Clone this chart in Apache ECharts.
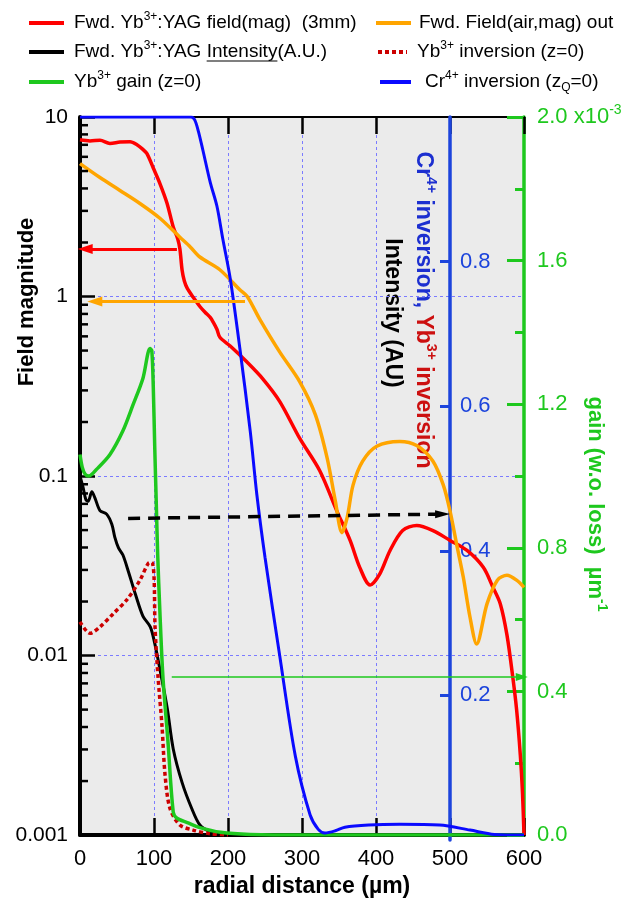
<!DOCTYPE html>
<html>
<head>
<meta charset="utf-8">
<script src="https://cdn.jsdelivr.net/npm/echarts@6/dist/echarts.min.js"></script>
<style>
  html, body { margin: 0; padding: 0; background: #fff; }
  #chart { width: 641px; height: 903px; }
</style>
</head>
<body>
<div id="chart"></div>
<script>
// Radial profiles at the Yb:YAG / Cr:YAG interface (r in µm)

// Forward Yb3+:YAG field magnitude, 3 mm (left log axis)
const fieldYagR = [0, 13.5, 27, 40.5, 54, 67.6, 77, 85, 90.5, 99, 108, 117.6, 126, 132, 135, 138, 141, 145, 153, 162, 169, 176, 180, 185, 189, 203, 226, 247, 270, 297, 324, 347, 365, 378, 392, 405, 419, 436, 455, 477, 500, 523, 545, 558, 568, 577, 585, 590, 595, 598, 600];
const fieldYagVal = [7.46, 7.36, 7.43, 7.12, 7.25, 7.28, 7.0, 6.6, 6.25, 5.2, 4.26, 3.31, 2.44, 2.1, 1.84, 1.4, 1.22, 1.11, 0.99, 0.88, 0.817, 0.765, 0.72, 0.657, 0.593, 0.53, 0.43, 0.348, 0.26, 0.162, 0.107, 0.064, 0.0438, 0.031, 0.0247, 0.0284, 0.0385, 0.0497, 0.053, 0.0497, 0.0438, 0.0385, 0.031, 0.024, 0.0194, 0.013, 0.0075, 0.005, 0.0028, 0.0017, 0.001];

// Forward field in air at the output (left log axis)
const fieldAirR = [0, 27, 54, 81, 108, 135, 149, 162, 189, 216, 226, 243, 270, 297, 318, 334, 345, 354, 361, 369, 382, 401, 432, 455, 477, 491, 500, 509, 518, 527, 536, 550, 564, 577, 590, 600];
const fieldAirVal = [5.5, 4.6, 3.9, 3.3, 2.73, 2.14, 1.89, 1.66, 1.41, 1.09, 1.0, 0.746, 0.49, 0.335, 0.22, 0.126, 0.0728, 0.0484, 0.0586, 0.089, 0.121, 0.1466, 0.156, 0.148, 0.121, 0.089, 0.064, 0.0416, 0.0273, 0.0164, 0.0116, 0.0194, 0.0263, 0.028, 0.0263, 0.024];

// Forward Yb3+:YAG intensity, A.U. (inversion / intensity axis)
const intensityR = [0, 4, 8, 11, 16, 20, 27, 36, 43, 47, 52, 58, 66, 75, 85, 95, 101, 108, 118, 126, 138, 151, 162, 176, 195, 230, 280];
const intensityVal = [0.50, 0.485, 0.467, 0.465, 0.478, 0.47, 0.452, 0.447, 0.433, 0.415, 0.4, 0.39, 0.365, 0.335, 0.305, 0.29, 0.267, 0.231, 0.176, 0.12, 0.073, 0.037, 0.014, 0.005, 0.0015, 0.0003, 0];

// Yb3+ inversion at z = 0
const ybInvR = [0, 13.5, 27, 44.6, 63.5, 81, 92, 97, 100, 101.4, 105.4, 110.8, 115, 121.6, 135, 152.7, 175.7, 200];
const ybInvVal = [0.297, 0.281, 0.29, 0.308, 0.328, 0.355, 0.378, 0.38, 0.36, 0.29, 0.221, 0.152, 0.083, 0.037, 0.014, 0.007, 0.002, 0];

// Yb3+ gain at z = 0, units of 1e-3 µm^-1 (right gain axis)
const gainR = [0, 3, 7, 12, 23, 40.5, 58, 71.6, 85, 94.6, 97, 99, 101, 103, 105, 108, 112, 119, 126, 131, 145, 162, 190, 230, 300, 600];
const gainVal = [1.06, 1.025, 1.005, 1.0, 1.02, 1.06, 1.126, 1.198, 1.272, 1.355, 1.35, 1.25, 1.08, 0.93, 0.78, 0.62, 0.443, 0.257, 0.064, 0.047, 0.035, 0.021, 0.008, 0.002, 0, 0];

// Cr4+ inversion at zQ = 0
const crInvR = [0, 150, 155, 160, 166, 176, 185, 193, 203, 216, 230, 239, 250, 270, 291, 311, 322, 331, 345, 358, 390, 432, 486, 527, 560, 600];
const crInvVal = [1.0, 1.0, 0.996, 0.98, 0.954, 0.909, 0.876, 0.83, 0.775, 0.678, 0.563, 0.474, 0.387, 0.249, 0.11, 0.028, 0.008, 0.003, 0.006, 0.011, 0.014, 0.015, 0.014, 0.007, 0.001, 0];

// Annotation arrows: [r start, r end, value(s)]
const arrowYag = [131, 7, 1.84];
const arrowAir = [223, 20, 0.938];
const arrowIntensity = [65, 490, 0.441, 0.447];
const arrowGain = [124, 597, 0.44];

// Tick labels and tick positions
const xTicks = [0, 100, 200, 300, 400, 500, 600];
const leftTickLabels = ['0.001', '0.01', '0.1', '1', '10'];
const invTicks = [0.2, 0.4, 0.6, 0.8];
// minor ticks of the field axis: 2..9 within each decade
const logMinorTicks = [];
[0.001, 0.01, 0.1, 1].forEach(function (d) {
  for (let k = 2; k <= 9; k++) logMinorTicks.push(+(k * d).toPrecision(3));
});

const FONT = '"Liberation Sans", Arial, Helvetica, sans-serif';
const C_RED = '#ff0000', C_ORANGE = '#ffa500', C_GREEN = '#1ec81e', C_BLUE = '#0a0aff',
      C_AXBLUE = '#1c44dc', C_DRED = '#cc0000';

function zip(xs, ys) { return xs.map(function (x, i) { return [x, ys[i]]; }); }

const measureCtx = document.createElement('canvas').getContext('2d');
function textWidth(s, size, weight) {
  measureCtx.font = (weight || 'normal') + ' ' + size + 'px ' + FONT;
  return measureCtx.measureText(s).width;
}

const chart = echarts.init(document.getElementById('chart'), null, { renderer: 'canvas', width: 641, height: 903 });

function arrowLine(x0, y0, x1, y1, color, width, type, size) {
  return {
    silent: true,
    animation: false,
    symbol: ['none', 'triangle'],
    symbolSize: size,
    label: { show: false },
    emphasis: { disabled: true },
    lineStyle: { color: color, width: width, type: type },
    data: [[{ coord: [x0, y0] }, { coord: [x1, y1] }]]
  };
}

function curve(name, xs, ys, yIdx, color, width, dash, markLine) {
  const s = {
    name: name,
    type: 'line',
    xAxisIndex: 0,
    yAxisIndex: yIdx,
    data: zip(xs, ys),
    showSymbol: false,
    symbol: 'none',
    smooth: 0.3,
    lineStyle: { color: color, width: width, type: dash || 'solid', cap: 'butt' },
    itemStyle: { color: color },
    emphasis: { disabled: true },
    silent: true
  };
  if (markLine) s.markLine = markLine;
  return s;
}

// Legend rows
const LEG = 19, SUP = 12;
const legRich = {
  n: { fontSize: LEG, fontFamily: FONT, fill: '#000', lineHeight: 24 },
  s: { fontSize: SUP, fontFamily: FONT, fill: '#000', verticalAlign: 'top', lineHeight: 24 },
  b: { fontSize: SUP, fontFamily: FONT, fill: '#000', verticalAlign: 'bottom', lineHeight: 24 }
};
function legText(x, y, text) {
  return {
    type: 'text', x: x, y: y, silent: true,
    style: { text: text, rich: legRich, align: 'left', verticalAlign: 'middle', textAlign: 'left', textVerticalAlign: 'middle', fill: '#000', fontSize: LEG, fontFamily: FONT }
  };
}
function legLine(x1, x2, y, color, dash) {
  return {
    type: 'line', silent: true,
    shape: { x1: x1, y1: y, x2: x2, y2: y },
    style: { stroke: color, lineWidth: 4, lineDash: dash || null }
  };
}
const row1 = 23, row2 = 52, row3 = 82;
const preIntensity = textWidth('Fwd. Yb', LEG) + textWidth('3+', SUP) + textWidth(':YAG ', LEG);
const wIntensity = textWidth('Intensity', LEG);

const legendGraphics = [
  legLine(29, 64, row1, C_RED),
  legText(74, row1, '{n|Fwd. Yb}{s|3+}{n|:YAG field(mag)  (3mm)}'),
  legLine(376, 411, row1, C_ORANGE),
  legText(419, row1, '{n|Fwd. Field(air,mag) out}'),
  legLine(29, 64, row2, '#000'),
  legText(74, row2, '{n|Fwd. Yb}{s|3+}{n|:YAG Intensity(A.U.)}'),
  {
    type: 'line', silent: true,
    shape: { x1: 74 + preIntensity, y1: row2 + 9, x2: 74 + preIntensity + wIntensity, y2: row2 + 9 },
    style: { stroke: '#000', lineWidth: 1.2 }
  },
  legLine(378, 407, row2, C_DRED, [4, 3]),
  legText(417, row2, '{n|Yb}{s|3+}{n| inversion (z=0)}'),
  legLine(29, 64, row3, C_GREEN),
  legText(74, row3, '{n|Yb}{s|3+}{n| gain (z=0)}'),
  legLine(380, 411, row3, C_BLUE),
  legText(425, row3, '{n|Cr}{s|4+}{n| inversion (z}{b|Q}{n|=0)}')
];

// Rotated axis titles
const titleGraphics = [
  {
    type: 'text', x: 27, y: 302, rotation: Math.PI / 2, silent: true,
    style: { text: 'Field magnitude', fontSize: 22, fontWeight: 'bold', fontFamily: FONT, fill: '#000',
             align: 'center', verticalAlign: 'middle', textAlign: 'center', textVerticalAlign: 'middle' }
  },
  {
    type: 'text', x: 423, y: 310, rotation: -Math.PI / 2, silent: true,
    style: {
      text: '{c|Cr}{cs|4+}{c| inversion, }{r|Yb}{rs|3+}{r| inversion}',
      align: 'center', verticalAlign: 'middle', textAlign: 'center', textVerticalAlign: 'middle',
      fontSize: 23, fontWeight: 'bold', fontFamily: FONT,
      rich: {
        c: { fontSize: 23, fontWeight: 'bold', fontFamily: FONT, fill: '#1c2fd0', lineHeight: 30 },
        cs: { fontSize: 14, fontWeight: 'bold', fontFamily: FONT, fill: '#1c2fd0', verticalAlign: 'top', lineHeight: 30 },
        r: { fontSize: 23, fontWeight: 'bold', fontFamily: FONT, fill: '#cc1010', lineHeight: 30 },
        rs: { fontSize: 14, fontWeight: 'bold', fontFamily: FONT, fill: '#cc1010', verticalAlign: 'top', lineHeight: 30 }
      }
    }
  },
  {
    type: 'text', x: 392, y: 313, rotation: -Math.PI / 2, silent: true,
    style: { text: 'Intensity (AU)', fontSize: 23, fontWeight: 'bold', fontFamily: FONT, fill: '#000',
             align: 'center', verticalAlign: 'middle', textAlign: 'center', textVerticalAlign: 'middle' }
  },
  {
    type: 'text', x: 595, y: 504, rotation: -Math.PI / 2, silent: true,
    style: {
      text: '{g|gain (w.o. loss)  µm}{gs|-1}',
      align: 'center', verticalAlign: 'middle', textAlign: 'center', textVerticalAlign: 'middle',
      fontSize: 22, fontWeight: 'bold', fontFamily: FONT,
      rich: {
        g: { fontSize: 22, fontWeight: 'bold', fontFamily: FONT, fill: C_GREEN, lineHeight: 28 },
        gs: { fontSize: 14, fontWeight: 'bold', fontFamily: FONT, fill: C_GREEN, verticalAlign: 'top', lineHeight: 28 }
      }
    }
  }
];

const option = {
  animation: false,
  backgroundColor: '#ffffff',
  textStyle: { fontFamily: FONT },
  grid: [
    // main plotting frame
    { left: 80, right: 117, top: 117, bottom: 63, show: true, backgroundColor: '#ebebeb', borderWidth: 0 },
    // frame ending at r = 500 µm, carrying the inversion / intensity scale
    { left: 80, right: 191, top: 117, bottom: 63, show: false }
  ],
  xAxis: [
    {
      type: 'value', gridIndex: 0, min: 0, max: 600, interval: 100, position: 'bottom',
      axisLine: { onZero: false, lineStyle: { color: '#000', width: 4 } },
      axisTick: { inside: true, length: 17, lineStyle: { color: '#000', width: 2.5 } },
      axisLabel: { fontSize: 22, color: '#000', margin: 13, fontFamily: FONT,
                   formatter: function (v) { return xTicks.indexOf(v) >= 0 ? String(v) : ''; } },
      splitLine: { show: true, lineStyle: { color: '#7b7bff', width: 1, type: [3, 3] } },
      name: 'radial distance (µm)', nameLocation: 'middle', nameGap: 31,
      nameTextStyle: { fontSize: 23, fontWeight: 'bold', color: '#000', fontFamily: FONT }
    },
    {
      type: 'value', gridIndex: 0, min: 0, max: 600, interval: 100, position: 'top',
      axisLine: { onZero: false, lineStyle: { color: '#000', width: 2 } },
      axisTick: { inside: true, length: 17, lineStyle: { color: '#000', width: 2.5 } },
      axisLabel: { show: false },
      splitLine: { show: false }
    },
    {
      type: 'value', gridIndex: 1, min: 0, max: 500, show: false
    }
  ],
  yAxis: [
    {
      type: 'log', logBase: 10, gridIndex: 0, min: 0.001, max: 10, position: 'left',
      axisLine: { onZero: false, lineStyle: { color: '#000', width: 4 } },
      axisTick: { inside: true, length: 15, lineStyle: { color: '#000', width: 2.5 } },
      axisLabel: { fontSize: 21, color: '#000', margin: 12, fontFamily: FONT,
                   formatter: function (v) { return leftTickLabels[Math.round(Math.log10(v)) + 3] || ''; } },
      splitLine: { show: true, lineStyle: { color: '#7b7bff', width: 1, type: [3, 3] } }
    },
    {
      // inversion / intensity scale used by the series (its visible twin sits on grid 1)
      type: 'value', gridIndex: 0, min: 0, max: 1, position: 'right', show: false
    },
    {
      type: 'value', gridIndex: 0, min: 0, max: 2, interval: 0.4, position: 'right', offset: 0,
      axisLine: { onZero: false, lineStyle: { color: C_GREEN, width: 3.5 } },
      axisTick: { inside: true, length: 17, lineStyle: { color: C_GREEN, width: 3 } },
      minorTick: { show: true, splitNumber: 2, length: 9, lineStyle: { color: C_GREEN, width: 3 } },
      axisLabel: {
        fontSize: 22, color: C_GREEN, margin: 13, fontFamily: FONT,
        formatter: function (v) { return Math.abs(v - 2) < 1e-9 ? '{b|2.0 x10}{s|-3}' : v.toFixed(1); },
        rich: {
          b: { fontSize: 22, color: C_GREEN, fontFamily: FONT, lineHeight: 28 },
          s: { fontSize: 14, color: C_GREEN, fontFamily: FONT, verticalAlign: 'top', lineHeight: 28 }
        }
      },
      splitLine: { show: false }
    },
    {
      type: 'value', gridIndex: 1, min: 0, max: 1, position: 'right', z: 3,
      axisLine: { onZero: false, lineStyle: { color: C_AXBLUE, width: 3.5 } },
      axisTick: { inside: true, length: 10, customValues: invTicks, lineStyle: { color: C_AXBLUE, width: 3 } },
      axisLabel: { fontSize: 22, color: C_AXBLUE, margin: 10, fontFamily: FONT, customValues: invTicks,
                   formatter: function (v) { return v.toFixed(1); } },
      splitLine: { show: false }
    }
  ],
  series: [
    // minor ticks of the logarithmic field axis, placed through the axis scale
    {
      type: 'custom', xAxisIndex: 0, yAxisIndex: 0, silent: true, z: 4, clip: false,
      data: logMinorTicks.map(function (v) { return [0, v]; }),
      renderItem: function (params, api) {
        const p = api.coord([0, api.value(1)]);
        return {
          type: 'line',
          shape: { x1: p[0], y1: p[1], x2: p[0] + 8, y2: p[1] },
          style: { stroke: '#000', lineWidth: 2.5 }
        };
      }
    },
    curve('Fwd. Yb3+:YAG field(mag) (3mm)', fieldYagR, fieldYagVal, 0, C_RED, 3.5, null,
      arrowLine(arrowYag[0], arrowYag[2], arrowYag[1], arrowYag[2], C_RED, 3, 'solid', [10, 15])),
    curve('Fwd. Field(air,mag) out', fieldAirR, fieldAirVal, 0, C_ORANGE, 3.5, null,
      arrowLine(arrowAir[0], arrowAir[2], arrowAir[1], arrowAir[2], C_ORANGE, 3, 'solid', [10, 15])),
    curve('Fwd. Yb3+:YAG Intensity(A.U.)', intensityR, intensityVal, 1, '#000', 3, null,
      arrowLine(arrowIntensity[0], arrowIntensity[2], arrowIntensity[1], arrowIntensity[3], '#000', 3.5, [12, 8], [8, 15])),
    curve('Yb3+ inversion (z=0)', ybInvR, ybInvVal, 1, C_DRED, 3.5, [4, 3]),
    curve('Yb3+ gain (z=0)', gainR, gainVal, 2, C_GREEN, 3.5, null,
      arrowLine(arrowGain[0], arrowGain[2], arrowGain[1], arrowGain[2], C_GREEN, 1.5, 'solid', [8, 12])),
    curve('Cr4+ inversion (zQ=0)', crInvR, crInvVal, 1, C_BLUE, 3)
  ],
  graphic: legendGraphics.concat(titleGraphics)
};

chart.setOption(option);
</script>
</body>
</html>
